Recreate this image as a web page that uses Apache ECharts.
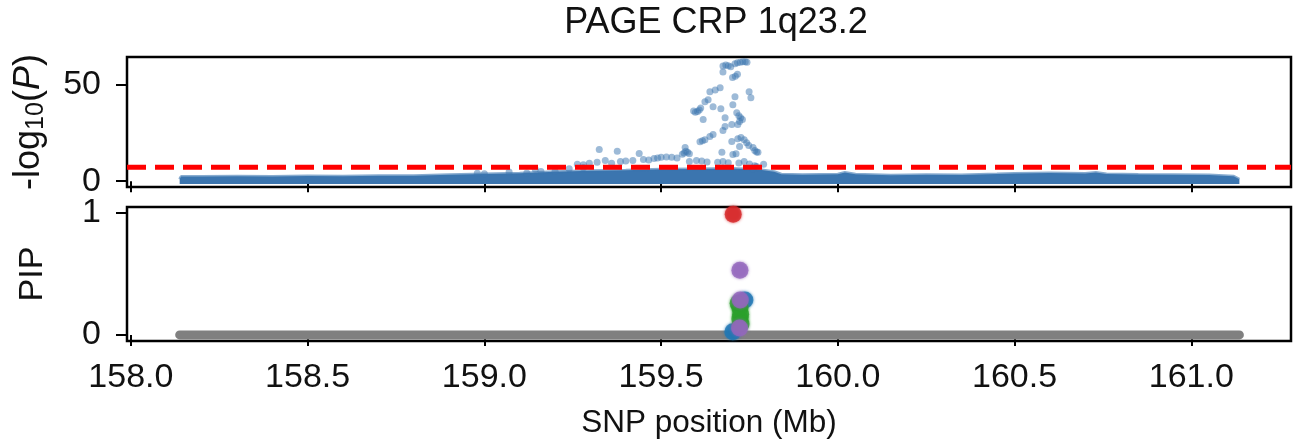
<!DOCTYPE html>
<html>
<head>
<meta charset="utf-8">
<script src="https://cdn.jsdelivr.net/npm/echarts@6/dist/echarts.min.js"></script>
<style>html,body{margin:0;padding:0;background:#fff}#c{width:1294px;height:445px}</style>
</head>
<body>
<div id="c"></div>
<script>
// ---- data ----
const title = 'PAGE CRP 1q23.2';
const xTicks = [158.0, 158.5, 159.0, 159.5, 160.0, 160.5, 161.0];
const topTicks = [0, 50];
const pipTicks = [0, 1];
const sigLine = 7.3;
const xRange = [157.989, 161.282];

// dense background band of SNPs (upper envelope of -log10 P)
const bandPos = [158.138,158.142,158.2,158.3,158.4,158.5,158.6,158.7,158.8,158.9,159.0,159.1,159.2,159.3,159.4,159.5,159.6,159.7,159.78,159.82,159.84,159.9,160.0,160.02,160.05,160.15,160.25,160.35,160.45,160.5,160.6,160.7,160.73,160.76,160.85,160.95,161.05,161.12,161.136];
const bandTop = [1.0,2.4,2.4,2.6,2.4,2.7,2.6,2.9,2.8,3.3,3.8,4.2,4.9,5.4,5.7,6.2,6.4,6.6,5.9,4.9,3.6,3.4,3.6,4.5,3.6,3.1,3.4,3.2,3.7,4.0,4.3,4.0,4.5,3.7,3.5,3.4,3.2,2.6,1.0];

// SNPs standing above the band
const snpPos = [159.675,159.683,159.690,159.697,159.709,159.716,159.724,159.731,159.738,159.743,
  159.675,159.702,159.710,159.716,
  159.638,159.653,159.667,159.624,159.633,159.647,159.709,159.749,159.754,159.703,
  159.592,159.597,159.603,159.608,159.612,
  159.669,159.619,159.681,159.714,159.720,159.725,159.730,159.722,159.717,159.700,159.681,159.675,159.647,159.638,159.610,159.617,159.624,159.700,
  159.717,159.726,159.735,159.742,159.748,159.722,
  159.760,159.765,159.770,159.774,
  159.560,159.565,159.570,159.575,159.580,159.568,159.672,159.703,159.712,
  159.500,159.515,159.530,159.545,
  159.580,159.600,159.615,159.630,159.660,159.675,159.690,
  159.720,159.735,159.750,159.765,159.770,159.790,159.760,
  159.325,159.376,159.438,159.297,159.319,159.342,159.360,159.385,159.400,159.420,159.450,159.465,159.480,159.490,
  159.263,159.280,
  158.980,159.000,159.070,159.120,159.144,159.160,159.200,159.240,159.280];
const snpLogP = [59.8,60.3,60.0,59.5,61.0,61.5,61.8,62.0,62.0,61.8,
  56.7,53.8,54.5,55.5,
  46.4,47.4,48.5,41.2,42.3,38.7,43.8,46.4,43.3,39.7,
  36.5,35.8,36.2,37.0,38.0,
  37.6,32.0,33.0,35.5,34.0,33.0,32.0,31.0,29.5,29.4,28.4,26.3,24.2,23.2,20.5,21.0,21.5,20.6,
  22.0,22.7,21.5,20.0,18.5,18.0,
  17.5,16.0,15.2,15.0,
  14.0,14.6,15.5,15.0,14.2,17.5,15.0,13.9,14.2,
  12.4,12.6,12.4,12.0,
  10.3,10.8,10.5,10.0,9.8,10.2,9.6,
  9.5,10.3,9.0,8.0,7.7,8.8,6.5,
  16.5,15.5,14.4,9.3,9.8,10.8,9.3,10.3,10.5,10.8,11.3,11.0,11.8,12.0,
  8.8,8.5,
  4.1,3.9,4.8,4.3,6.2,5.0,5.2,6.5,7.0];

// PIP panel: gray background strip of SNPs with PIP ~ 0
const pipBasePos = [158.138, 161.136];
const pipBaseVal = [0, 0];
// credible-set SNPs
const pipSetNames = ['blue', 'green', 'purple', 'red'];
const pipSetColors = ['#1f77b4', '#2ca02c', '#9467bd', '#d62728'];
const pipPos = [159.737,159.703, 159.718,159.723,159.725,159.723,159.726, 159.723,159.724,159.722, 159.704];
const pipVal = [0.287,0.025, 0.26,0.22,0.17,0.13,0.09, 0.53,0.287,0.057, 0.99];
const pipSet = [0,0, 1,1,1,1,1, 2,2,2, 3];

// ---- chart ----
const FONT = 'Liberation Sans';
const zip = (a, b) => a.map((v, i) => [v, b[i]]);

const xAxisCommon = {
  type: 'value', min: xRange[0], max: xRange[1],
  axisLine: {show: false}, splitLine: {show: false},
  axisTick: {show: true, customValues: xTicks, length: 11, lineStyle: {color: '#000', width: 2}}
};

const pipSeries = pipSetNames.map((name, s) => ({
  name: name, type: 'scatter', xAxisIndex: 1, yAxisIndex: 1,
  symbolSize: 17,
  itemStyle: {color: pipSetColors[s], opacity: 0.8, shadowBlur: 3, shadowColor: pipSetColors[s]},
  data: pipPos.map((p, i) => [p, pipVal[i], pipSet[i]]).filter(d => d[2] === s).map(d => [d[0], d[1]]),
  z: 5 + s
}));

const option = {
  animation: false,
  backgroundColor: '#fff',
  textStyle: {fontFamily: FONT, color: '#000'},
  title: {text: title, left: 711, textAlign: 'center', top: 0,
    textStyle: {fontFamily: FONT, fontSize: 36, fontWeight: 'normal', color: '#111'}},
  grid: [
    {left: 127, top: 57, width: 1164, height: 130, show: true, borderColor: '#000', borderWidth: 2.5, backgroundColor: 'transparent'},
    {left: 127, top: 207, width: 1164, height: 134, show: true, borderColor: '#000', borderWidth: 2.5, backgroundColor: 'transparent'}
  ],
  xAxis: [
    Object.assign({gridIndex: 0, axisLabel: {show: false}}, xAxisCommon),
    Object.assign({gridIndex: 1,
      axisLabel: {show: true, customValues: xTicks, margin: 20, fontSize: 34, fontFamily: FONT, color: '#111',
        formatter: v => v.toFixed(1)},
      name: 'SNP position (Mb)', nameLocation: 'middle', nameGap: 66,
      nameTextStyle: {fontSize: 31.5, fontFamily: FONT, color: '#111'}}, xAxisCommon)
  ],
  yAxis: [
    {gridIndex: 0, type: 'value', min: -3, max: 64.5,
      axisLine: {show: false}, splitLine: {show: false},
      axisTick: {show: true, customValues: topTicks, length: 11, lineStyle: {color: '#000', width: 2}},
      axisLabel: {show: true, customValues: topTicks, margin: 26, fontSize: 34, fontFamily: FONT, color: '#111'},
      name: '-log{sub|10}({it|P})', nameLocation: 'middle', nameGap: 78, nameRotate: 90,
      nameTextStyle: {fontSize: 36, fontFamily: FONT, color: '#111',
        rich: {sub: {fontSize: 25, fontFamily: FONT, color: '#111', verticalAlign: 'bottom', padding: [15, 0, 0, 0]},
               it: {fontSize: 36, fontFamily: FONT, color: '#111', fontStyle: 'italic'}}}},
    {gridIndex: 1, type: 'value', min: -0.05, max: 1.05,
      axisLine: {show: false}, splitLine: {show: false},
      axisTick: {show: true, customValues: pipTicks, length: 11, lineStyle: {color: '#000', width: 2}},
      axisLabel: {show: true, customValues: pipTicks, margin: 26, fontSize: 34, fontFamily: FONT, color: '#111'},
      name: 'PIP', nameLocation: 'middle', nameGap: 77, nameRotate: 90,
      nameTextStyle: {fontSize: 34, fontFamily: FONT, color: '#111'}}
  ],
  series: [
    {name: 'band', type: 'line', xAxisIndex: 0, yAxisIndex: 0, showSymbol: false, symbol: 'none',
      data: zip(bandPos, bandTop),
      lineStyle: {color: '#3b75af', width: 3, opacity: 0.6},
      areaStyle: {color: '#3b75af', opacity: 1, origin: -1.4}, z: 2},
    {name: 'snps', type: 'scatter', xAxisIndex: 0, yAxisIndex: 0, symbolSize: 7,
      itemStyle: {color: '#3b75af', opacity: 0.5}, data: zip(snpPos, snpLogP), z: 3},
    {name: 'sig', type: 'line', xAxisIndex: 0, yAxisIndex: 0, showSymbol: false, symbol: 'none',
      data: [[xRange[0], sigLine], [xRange[1], sigLine]],
      lineStyle: {color: '#ff0000', width: 5, type: [19, 9]}, z: 4},
    {name: 'pipBase', type: 'line', xAxisIndex: 1, yAxisIndex: 1, showSymbol: false, symbol: 'none',
      data: zip(pipBasePos, pipBaseVal),
      lineStyle: {color: '#808080', width: 9, cap: 'round'}, z: 3}
  ].concat(pipSeries)
};

const chart = echarts.init(document.getElementById('c'), null, {renderer: 'canvas'});
chart.setOption(option);
</script>
</body>
</html>
